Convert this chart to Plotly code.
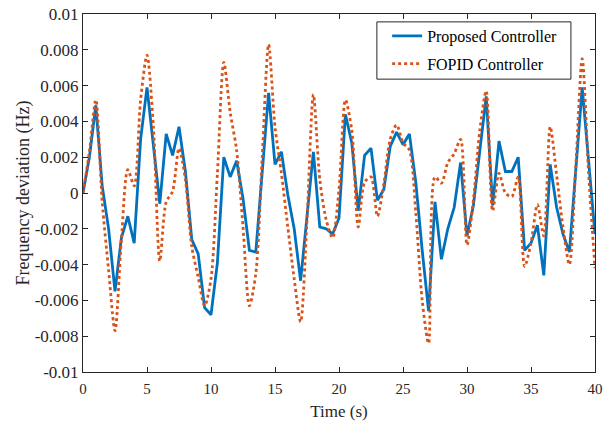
import plotly.graph_objects as go

time_s = [i * 0.5 for i in range(81)]

proposed = [
    0.0, 2.0, 4.9, 0.4, -2.0, -5.5, -2.5, -1.3, -2.8, 3.0,
    5.9, 2.8, -0.6, 3.3, 2.1, 3.7, 1.2, -2.6, -3.4, -6.4,
    -6.8, -3.9, 2.0, 0.9, 1.8, -0.3, -3.2, -3.3, 1.1, 5.6,
    1.6, 2.3, -0.1, -2.0, -4.9, -1.3, 2.3, -1.9, -2.0, -2.3,
    -1.4, 4.4, 2.8, -1.0, 2.1, 2.5, -0.4, 0.2, 2.6, 3.4,
    2.7, 3.3, 0.6, -3.2, -6.6, -0.5, -3.7, -2.0, -0.8, 1.7,
    -2.4, -0.7, 2.4, 5.4, -0.7, 2.9, 1.2, 1.2, 2.0, -3.2,
    -2.8, -1.8, -4.6, 1.6, -0.8, -2.3, -3.3, 1.3, 5.9, 1.8,
    -2.3,
]

fopid = [
    0.0, 2.3, 5.2, -0.5, -4.3, -7.7, -2.6, 1.3, 0.4, 5.2,
    7.7, 3.7, -3.8, -0.5, 0.1, 2.5, 0.75, -3.0, -4.7, -6.3,
    -4.8, 1.1, 7.3, 4.5, 2.4, -1.9, -6.3, -4.5, 2.0, 8.3,
    3.7, 1.1, -1.9, -4.8, -7.2, -1.5, 5.5, 0.75, -1.5, -2.5,
    0.2, 5.2, 3.5, -1.9, 0.6, 0.9, -1.3, 0.5, 3.0, 3.8,
    2.8, 2.4, -1.1, -6.0, -8.4, 0.9, 0.55, 1.7, 2.2, 3.0,
    -2.9, -0.4, 3.5, 5.7, -1.0, 1.1, 0.0, -0.2, 0.9, -4.1,
    -2.8, -0.65, -2.4, 3.7, 1.0, -1.9, -4.0, 1.5, 7.5, 1.1,
    -4.2,
]

proposed_hz = [v * 1e-3 for v in proposed]
fopid_hz = [v * 1e-3 for v in fopid]

x_ticks = [0, 5, 10, 15, 20, 25, 30, 35, 40]
y_ticks = [0.01, 0.008, 0.006, 0.004, 0.002, 0, -0.002, -0.004, -0.006, -0.008, -0.01]
y_tick_labels = ["0.01", "0.008", "0.006", "0.004", "0.002", "0",
                 "-0.002", "-0.004", "-0.006", "-0.008", "-0.01"]

BLUE = "#0072BD"
ORANGE = "#D95319"
FONT = "Liberation Serif"
AX = "#262626"

fig = go.Figure()
fig.add_trace(go.Scatter(
    x=time_s, y=proposed_hz, mode="lines", name="Proposed Controller",
    legendgroup="a",
    line=dict(color=BLUE, width=2.8),
))
fig.add_trace(go.Scatter(
    x=time_s, y=fopid_hz, mode="lines", name="FOPID Controller",
    legendgroup="b",
    line=dict(color=ORANGE, width=2.8, dash="dot", shape="spline", smoothing=0.8),
))

axis_common = dict(
    showgrid=False, zeroline=False, showline=True, linecolor=AX,
    linewidth=1, mirror="ticks", ticks="inside", ticklen=5, tickcolor=AX,
    automargin=False,
)

# legend frame
fig.add_shape(type="rect", xref="paper", yref="paper",
              x0=0.574, x1=0.953, y0=0.818, y1=0.978,
              fillcolor="white", line=dict(color=AX, width=1), layer="above")

fig.update_layout(
    width=611, height=421,
    margin=dict(l=83, r=16, t=14, b=49, pad=0),
    paper_bgcolor="white", plot_bgcolor="white",
    font=dict(family=FONT, color=AX),
    xaxis=dict(range=[0, 40], tickvals=x_ticks,
               tickfont=dict(family=FONT, size=15, color=AX),
               ticklabelstandoff=3,
               title=dict(text="Time (s)", font=dict(family=FONT, size=17, color=AX), standoff=10),
               **axis_common),
    yaxis=dict(range=[-0.01, 0.01], tickvals=y_ticks, ticktext=y_tick_labels,
               tickfont=dict(family=FONT, size=17, color=AX),
               title=dict(text="Frequency deviation (Hz)", font=dict(family=FONT, size=18, color=AX), standoff=0),
               **axis_common),
    legend=dict(
        x=0.594, y=0.986, xanchor="left", yanchor="top",
        bgcolor="rgba(0,0,0,0)", borderwidth=0,
        font=dict(family=FONT, size=16, color="#000000"),
        tracegroupgap=4,
    ),
    showlegend=True,
)

fig.write_html("out.html")
